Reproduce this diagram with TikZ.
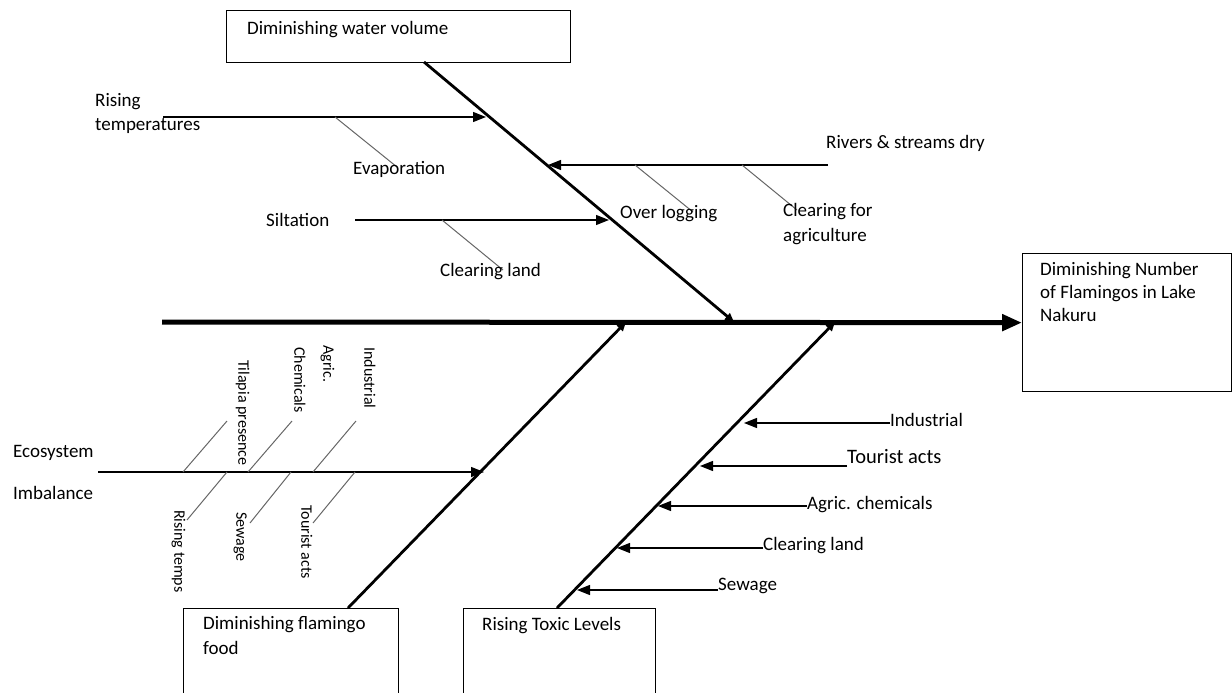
\documentclass[tikz,border=0pt]{standalone}
\usepackage{fontspec}
\setmainfont{Carlito}
\usetikzlibrary{arrows.meta,calc}
\begin{document}
\begin{tikzpicture}[x=1pt,y=-1pt,
  lbl/.style={inner sep=0pt, font=\fontsize{19}{23}\selectfont, text height=12.5pt, text depth=3.5pt, anchor=west},
  biglbl/.style={lbl, font=\fontsize{20.5}{24}\selectfont},
  vlbl/.style={inner sep=0pt, font=\fontsize{16}{20}\selectfont, text height=10.5pt, text depth=3pt, anchor=west, rotate=-90},
  box/.style={draw, line width=1.3pt, inner sep=0pt, anchor=north west},
  spine/.style={line width=5pt, -{Triangle[length=20pt,width=16pt]}},
  bone/.style={line width=2.8pt, -{Triangle[length=9pt,width=8pt]}},
  cause/.style={line width=1.4pt, -{Triangle[length=13pt,width=10pt]}},
  twig/.style={line width=1pt, draw=black!60}]
\useasboundingbox (0,0) rectangle (1232,693);
\clip (0,0) rectangle (1232,693);

% boxes
\node[box, minimum width=344pt, minimum height=52pt] (water) at (226,10) {};
\node[box, minimum width=209pt, minimum height=138pt] (effect) at (1022,253) {};
\node[box, minimum width=215pt, minimum height=100pt] (food) at (183,608) {};
\node[box, minimum width=192pt, minimum height=100pt] (toxic) at (463,608) {};

\node[lbl] (twater) at (247,30) {Diminishing water volume};
\node[lbl] (te1) at (1040,271) {Diminishing Number};
\node[lbl] (te2) at (1040,294) {of Flamingos in Lake};
\node[lbl] (te3) at (1040,317) {Nakuru};
\node[lbl] (tf1) at (203,625) {Diminishing flamingo};
\node[lbl] (tf2) at (203,650) {food};
\node[lbl] (tt1) at (482,626) {Rising Toxic Levels};

% spine and bones
\coordinate (tail) at (162,322);
\draw[spine] (tail) -- (effect.west);
\coordinate (wtop) at (424,62);
\coordinate (j1) at (734,322);
\draw[bone] (wtop) -- (j1);
\coordinate (ftop) at (348,608);
\coordinate (j2) at (626,322);
\draw[bone] (ftop) -- (j2);
\coordinate (ttop) at (557,608);
\coordinate (j3) at (835,322);
\draw[bone] (ttop) -- (j3);

% water volume causes
\node[lbl] (l_rising) at (95,102) {Rising};
\node[lbl] (l_temps) at (95,126) {temperatures};
\coordinate (rt0) at (163,117);
\coordinate (rt1) at (486,117);
\draw[cause] (rt0) -- (rt1);
\coordinate (ev0) at (335,117);
\coordinate (ev1) at (397,167);
\draw[twig] (ev0) -- (ev1);
\node[lbl] (l_evap) at (353,170) {Evaporation};

\node[lbl] (l_silt) at (266,222) {Siltation};
\coordinate (si0) at (355,220);
\coordinate (si1) at (609,220);
\draw[cause] (si0) -- (si1);
\coordinate (cl0) at (442,220);
\coordinate (cl1) at (503,270);
\draw[twig] (cl0) -- (cl1);
\node[lbl] (l_clear) at (440,272) {Clearing land};

\node[lbl] (l_rivers) at (826,144) {Rivers \& streams dry};
\coordinate (ri0) at (828,165);
\coordinate (ri1) at (548,165);
\draw[cause] (ri0) -- (ri1);
\coordinate (ol0) at (635,165);
\coordinate (ol1) at (693,212);
\draw[twig] (ol0) -- (ol1);
\node[lbl] (l_over) at (620,214) {Over logging};
\coordinate (ca0) at (742,165);
\coordinate (ca1) at (797,210);
\draw[twig] (ca0) -- (ca1);
\node[lbl] (l_cfor) at (783,212) {Clearing for};
\node[lbl] (l_agri) at (783,237) {agriculture};

% flamingo food causes
\node[lbl] (l_eco) at (13,453) {Ecosystem};
\node[lbl] (l_imb) at (13,495) {Imbalance};
\coordinate (ec0) at (98,472);
\coordinate (ec1) at (484,472);
\draw[cause] (ec0) -- (ec1);
\coordinate (u1a) at (183,472); \coordinate (u1b) at (227,421);
\coordinate (u2a) at (248,472); \coordinate (u2b) at (292,421);
\coordinate (u3a) at (313,472); \coordinate (u3b) at (356,421);
\coordinate (d1a) at (227,472); \coordinate (d1b) at (187,520);
\coordinate (d2a) at (291,472); \coordinate (d2b) at (250,523);
\coordinate (d3a) at (355,472); \coordinate (d3b) at (313,523);
\draw[twig] (u1a) -- (u1b);
\draw[twig] (u2a) -- (u2b);
\draw[twig] (u3a) -- (u3b);
\draw[twig] (d1a) -- (d1b);
\draw[twig] (d2a) -- (d2b);
\draw[twig] (d3a) -- (d3b);
\node[vlbl] (v_tilapia) at (242,360) {Tilapia presence};
\node[vlbl] (v_agric) at (327,345) {Agric.};
\node[vlbl] (v_chem) at (298,347) {Chemicals};
\node[vlbl] (v_ind) at (368,347) {Industrial};
\node[vlbl] (v_rtemps) at (178,510) {Rising temps};
\node[vlbl] (v_sewage) at (240,512) {Sewage};
\node[vlbl] (v_tour) at (305,505) {Tourist acts};

% toxic level causes
\node[lbl] (t_ind) at (890,422) {Industrial};
\coordinate (ti0) at (890,423); \coordinate (ti1) at (744,423);
\draw[cause] (ti0) -- (ti1);
\node[biglbl] (t_tour) at (847,459) {Tourist acts};
\coordinate (tt0) at (847,466); \coordinate (tt1) at (700,466);
\draw[cause] (tt0) -- (tt1);
\node[lbl] (t_agric) at (807,505) {Agric. chemicals};
\coordinate (ta0) at (807,506); \coordinate (ta1) at (658,506);
\draw[cause] (ta0) -- (ta1);
\node[lbl] (t_clear) at (763,546) {Clearing land};
\coordinate (tc0) at (763,548); \coordinate (tc1) at (617,548);
\draw[cause] (tc0) -- (tc1);
\node[lbl] (t_sew) at (718,586) {Sewage};
\coordinate (ts0) at (718,590); \coordinate (ts1) at (577,590);
\draw[cause] (ts0) -- (ts1);
\end{tikzpicture}
\end{document}
